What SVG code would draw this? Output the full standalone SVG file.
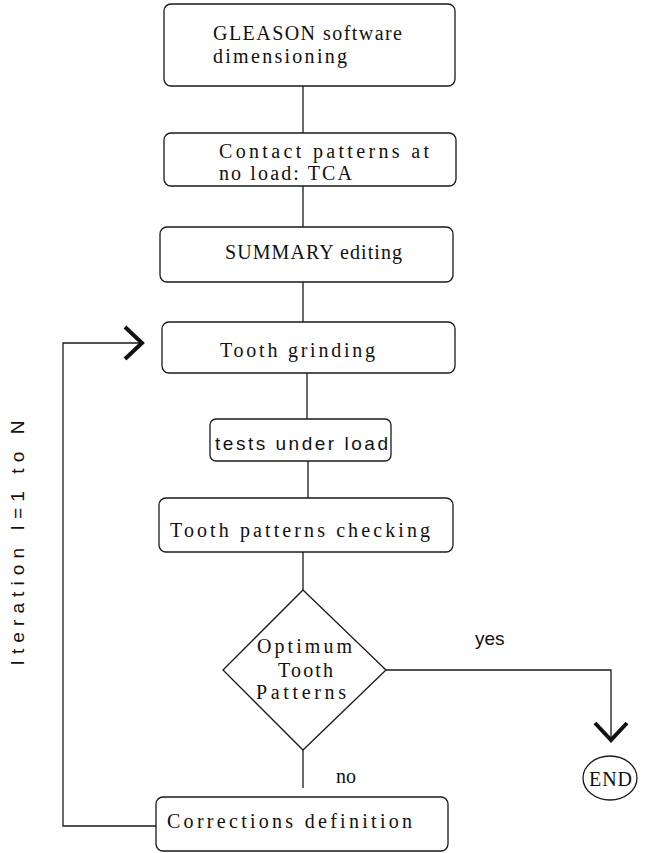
<svg xmlns="http://www.w3.org/2000/svg" xmlns:xlink="http://www.w3.org/1999/xlink" width="645" height="853" viewBox="0 0 645 853">
<style>
.box{fill:#fff;stroke:#1a1a1a;stroke-width:1.3}
.ln{fill:none;stroke:#1a1a1a;stroke-width:1.3}
.t{font-family:"Liberation Serif","DejaVu Serif",serif;font-size:20px;fill:#111}
.s{font-family:"Liberation Sans","DejaVu Sans",sans-serif;font-size:19px;fill:#111}
.chev{fill:none;stroke:#111;stroke-width:4;stroke-linejoin:miter;stroke-linecap:butt}
</style>
<defs>
<path id="chev" class="chev" d="M-17,-16 L0,0 L-17,16"/>
</defs>
<rect width="645" height="853" fill="#fff"/>
<g id="connectors">
<line class="ln" x1="303" y1="86" x2="303" y2="133"/>
<line class="ln" x1="303" y1="186" x2="303" y2="227"/>
<line class="ln" x1="303" y1="282" x2="303" y2="322"/>
<line class="ln" x1="307" y1="373" x2="307" y2="419"/>
<line class="ln" x1="308" y1="461" x2="308" y2="498"/>
<line class="ln" x1="303" y1="552" x2="303" y2="590"/>
<line class="ln" x1="303" y1="750" x2="303" y2="788"/>
<polyline class="ln" points="156,826 63,826 63,343 140,343"/>
<use xlink:href="#chev" transform="translate(142,343)"/>
<polyline class="ln" points="386,670 611,670 611,737"/>
<use xlink:href="#chev" transform="translate(611,740) rotate(90)"/>
<text class="s" x="475" y="645">yes</text>
<text class="t" x="336" y="783">no</text>
<text class="s" transform="translate(24,543) rotate(-90)" text-anchor="middle" textLength="245" lengthAdjust="spacing">Iteration I=1 to N</text>
</g>
<g id="n1">
<rect class="box" x="164" y="4" width="291" height="82" rx="7"/>
<text class="t" x="213" y="40" textLength="189" lengthAdjust="spacing">GLEASON software</text>
<text class="t" x="213" y="63" textLength="134" lengthAdjust="spacing">dimensioning</text>
</g>
<g id="n2">
<rect class="box" x="164" y="133" width="292" height="53" rx="7"/>
<text class="t" x="219" y="158" textLength="210" lengthAdjust="spacing">Contact patterns at</text>
<text class="t" x="219" y="180" textLength="133" lengthAdjust="spacing">no load: TCA</text>
</g>
<g id="n3">
<rect class="box" x="160" y="227" width="293" height="55" rx="7"/>
<text class="t" x="225" y="259" textLength="177" lengthAdjust="spacing">SUMMARY editing</text>
</g>
<g id="n4">
<rect class="box" x="162" y="322" width="293" height="51" rx="7"/>
<text class="t" x="220" y="357" textLength="155" lengthAdjust="spacing">Tooth grinding</text>
</g>
<g id="n5">
<rect class="box" x="210" y="419" width="181" height="42" rx="6"/>
<text class="s" x="215" y="450" textLength="173" lengthAdjust="spacing">tests under load</text>
</g>
<g id="n6">
<rect class="box" x="159" y="498" width="294" height="54" rx="7"/>
<text class="t" x="170" y="537" textLength="260" lengthAdjust="spacing">Tooth patterns checking</text>
</g>
<g id="n7">
<polygon class="box" points="303,590 386,670 303,750 223,670"/>
<text class="t" x="257" y="653" textLength="95" lengthAdjust="spacing">Optimum</text>
<text class="t" x="278" y="677" textLength="55" lengthAdjust="spacing">Tooth</text>
<text class="t" x="256" y="699" textLength="90" lengthAdjust="spacing">Patterns</text>
</g>
<g id="n8">
<rect class="box" x="156" y="797" width="292" height="54" rx="7"/>
<text class="t" x="167" y="828" textLength="245" lengthAdjust="spacing">Corrections definition</text>
</g>
<g id="end">
<ellipse class="box" cx="610" cy="778" rx="27" ry="22"/>
<text class="t" x="589" y="786" textLength="43" lengthAdjust="spacing">END</text>
</g>
</svg>
